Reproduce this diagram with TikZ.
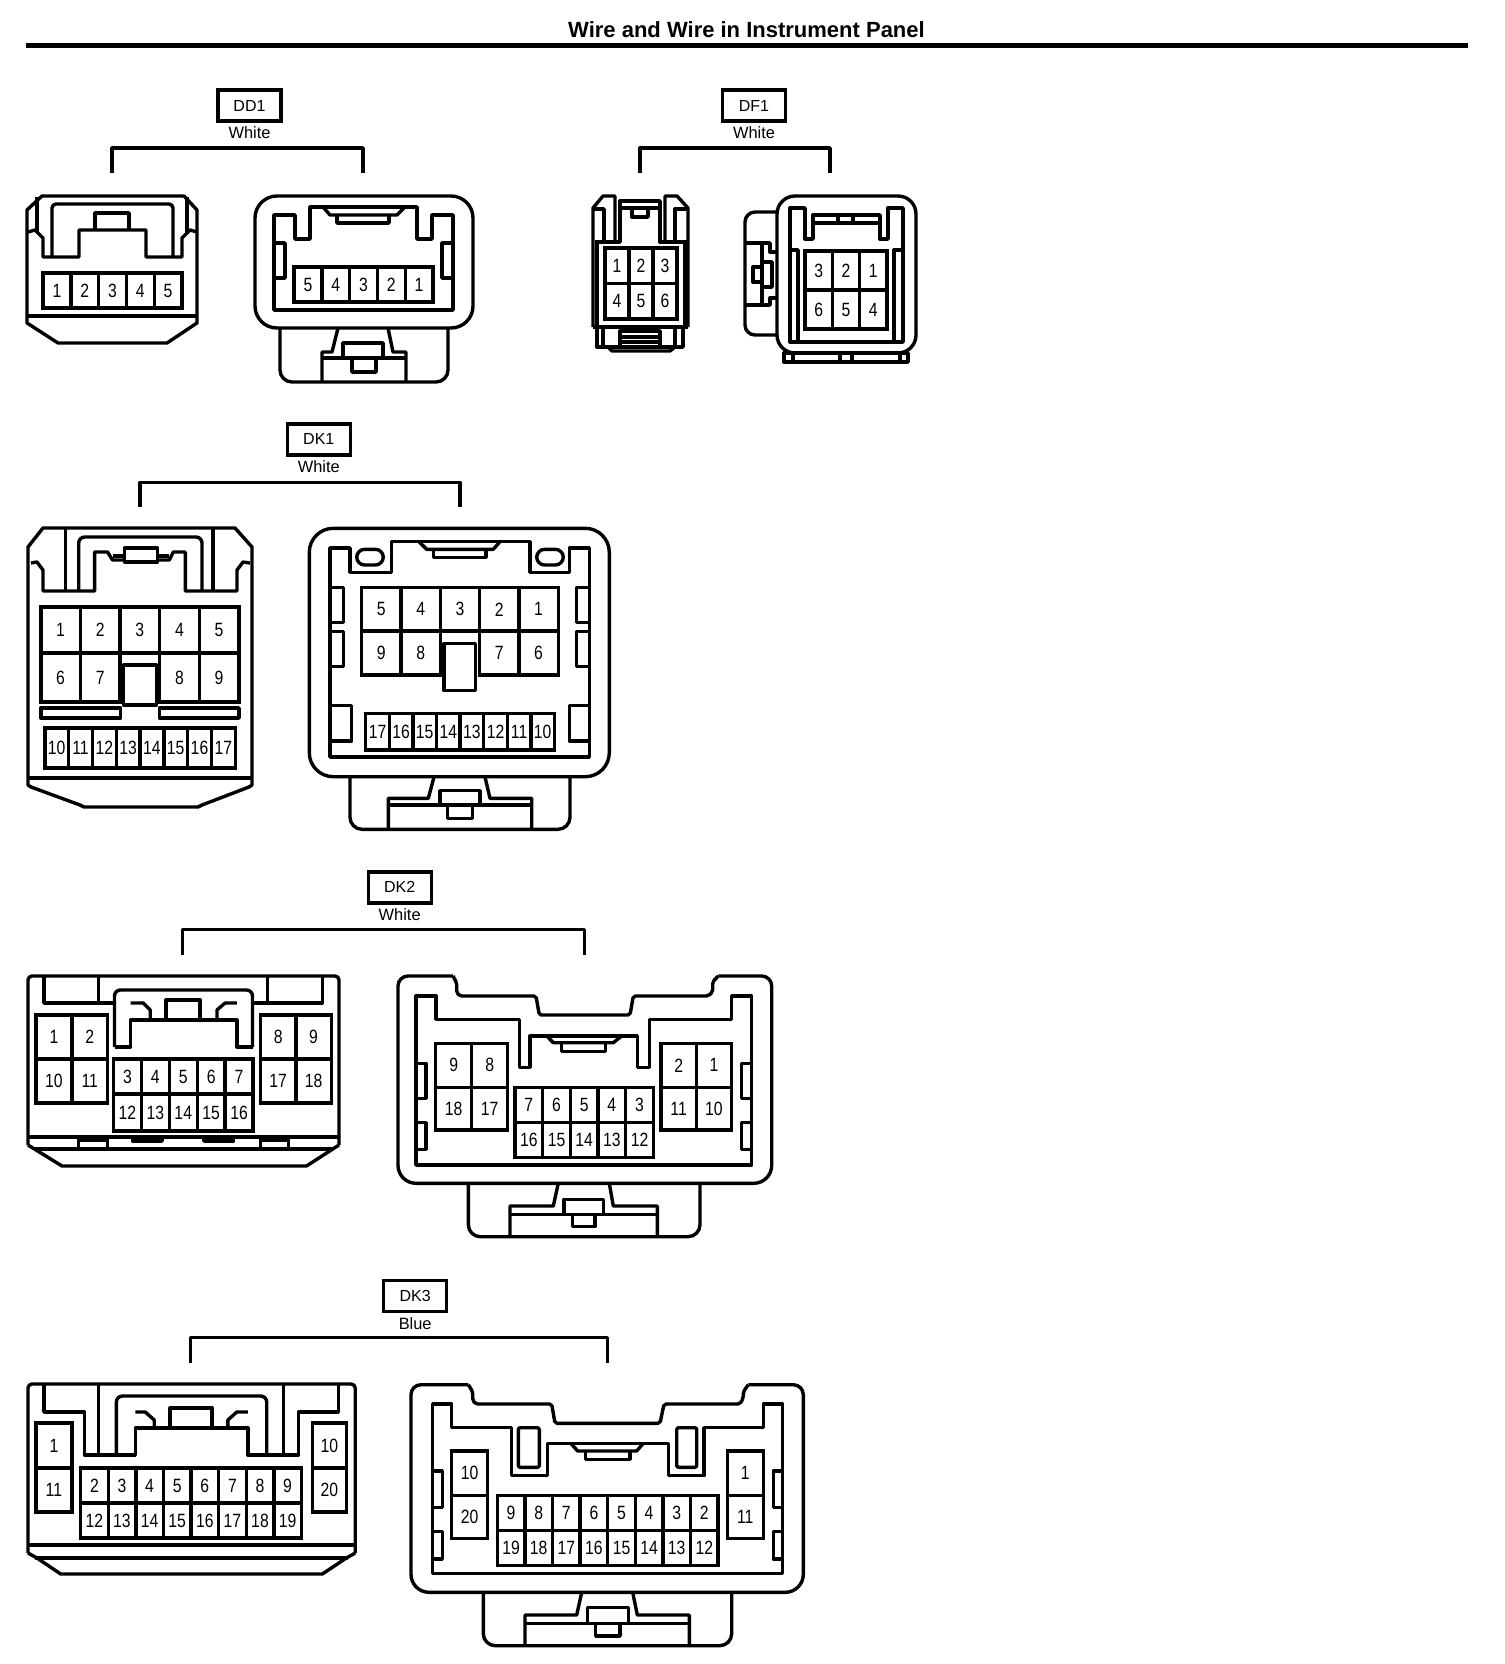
\documentclass[tikz,border=0pt]{standalone}
\usepackage{fontspec}
\setmainfont{Liberation Sans}
\newfontfamily\pinfont[FakeStretch=0.82]{Liberation Sans}
\usetikzlibrary{positioning}
\newcommand{\pinrow}[6]{%
  \foreach \lab [count=\n] in {#6}
    \node[pincell, minimum width=#4*0.5pt, minimum height=#5*0.5pt] (#1\n) at ({#2+(\n-0.5)*#4},{#3+#5/2}) {\lab};
}
\newcommand{\codebox}[5]{%
  \node[codetag] (#1) at (#2,#3) {#1};
  \node[colourtag, below=2pt of #1] (#1c) {#4};
  \coordinate (#1l) at (#5);
}

\begin{document}
\begin{tikzpicture}[x=0.5pt,y=-0.5pt]

\tikzstyle{hood}=[line width=1.7pt, line join=round]
\tikzstyle{pincell}=[draw, line width=1.7pt, inner sep=0pt, font=\pinfont\fontsize{9.6}{10}\selectfont]
\tikzstyle{codetag}=[draw, line width=1.7pt, minimum width=31.5pt, minimum height=15.5pt, inner sep=0pt, font=\fontsize{8}{9}\selectfont]
\tikzstyle{colourtag}=[inner sep=0pt, font=\fontsize{8.2}{9}\selectfont]
\tikzstyle{bracket}=[line width=1.7pt, line join=round]

\useasboundingbox (0,0) rectangle (1504,1664);

\node[font=\bfseries\fontsize{11}{12}\selectfont, inner sep=0pt] (title) at (746.5,30) {Wire and Wire in Instrument Panel};
\coordinate (rulel) at (26,45.5);
\coordinate (ruler) at (1468,45.5);
\draw[line width=2.5pt] (rulel) -- (ruler);

% DD1
\codebox{DD1}{249.5}{105.5}{White}{112,173}
\coordinate (DD1r) at (363,173);
\draw[bracket] (DD1l) -- ++(0,-25) -| (DD1r);

\draw[hood] (42,196) -- (184,196) -- (197,210) -- (197,323) -- (167,343) -- (58,343) -- (27,323) -- (27,210) -- cycle;
\draw[hood] (27,316) -- (197,316);
\draw[hood] (37,197) -- (37,232) (187,197) -- (187,232);
\draw[hood] (28,232) -- (35,230) -- (43,238) -- (43,257) -- (79,257) -- (79,230) -- (146,230) -- (146,257) -- (182,257) -- (182,238) -- (190,230) -- (197,232);
\draw[hood, rounded corners=2pt] (52,257) -- (52,204) -- (173,204) -- (173,257);
\draw[hood] (95,230) -- (95,213) -- (129,213) -- (129,230);
\pinrow{dda}{43}{273}{27.8}{35}{1,2,3,4,5}

\draw[hood, rounded corners=11pt] (255,196) rectangle (473,328);
\draw[hood] (274,310) -- (453,310) -- (453,215) -- (432,215) -- (432,239) -- (417,239) -- (417,207) -- (310,207) -- (310,239) -- (295,239) -- (295,215) -- (274,215) -- cycle;
\draw[hood] (323,207) -- (330,215) -- (397,215) -- (405,207);
\draw[hood] (337,215) -- (337,223) -- (389,223) -- (389,215);
\draw[hood] (274,243) -- (285,243) -- (285,278) -- (274,278);
\draw[hood] (453,243) -- (442,243) -- (442,278) -- (453,278);
\pinrow{ddb}{294}{267}{27.8}{35}{5,4,3,2,1}
\draw[hood, rounded corners=6pt] (280,328) -- (280,382) -- (448,382) -- (448,328);
\draw[hood] (322,382) -- (322,352) -- (332,352) -- (338,328);
\draw[hood] (406,382) -- (406,352) -- (393,352) -- (388,328);
\draw[hood] (322,358) -- (406,358);
\draw[hood] (343,358) -- (343,343) -- (383,343) -- (383,358);
\draw[hood] (352,358) -- (352,372) -- (376,372) -- (376,358);

% DF1
\codebox{DF1}{754}{105.5}{White}{640,173}
\coordinate (DF1r) at (830,173);
\draw[bracket] (DF1l) -- ++(0,-25) -| (DF1r);

\draw[hood] (593,327) -- (593,208) -- (603,196) -- (615,196) -- (615,242);
\draw[hood] (688,327) -- (688,208) -- (677,196) -- (665,196) -- (665,242);
\draw[hood] (593,209) -- (604,209) -- (604,241);
\draw[hood] (688,209) -- (675,209) -- (675,241);
\draw[hood] (595,242) -- (620,242) -- (620,201) -- (660,201) -- (660,242) -- (687,242);
\draw[hood] (620,208) -- (660,208);
\draw[hood] (632,208) -- (632,217) -- (648,217) -- (648,208);
\draw[hood] (597,243) -- (597,327) (685,243) -- (685,327);
\draw[line width=2pt] (593,327) -- (688,327);
\pinrow{dfa}{605}{248}{24}{35.5}{1,2,3}
\pinrow{dfb}{605}{283.5}{24}{35.5}{4,5,6}
\draw[hood] (597,327) -- (597,347) -- (683,347) -- (683,327);
\draw[hood] (603,327) -- (603,347) (675,327) -- (675,347);
\draw[hood] (620,347) -- (620,331) -- (660,331) -- (660,347);
\draw[hood] (620,337) -- (660,337) (620,342) -- (660,342);
\draw[hood] (608,347) -- (612,351) -- (670,351) -- (675,347);

\draw[hood, rounded corners=9pt] (777,196) rectangle (916,353);
\draw[hood] (790,342) -- (790,208) -- (805,208) -- (805,239) -- (813,239) -- (813,215) -- (880,215) -- (880,239) -- (888,239) -- (888,208) -- (903,208) -- (903,342) -- cycle;
\draw[hood] (813,223) -- (880,223);
\draw[hood] (838,215) -- (838,223) (853,215) -- (853,223);
\draw[hood] (790,250) -- (798,250) -- (798,342);
\draw[hood] (903,250) -- (894,250) -- (894,342);
\pinrow{dfc}{805}{251}{27.3}{39}{3,2,1}
\pinrow{dfd}{805}{290}{27.3}{39}{6,5,4}
\draw[hood, rounded corners=5pt] (777,212) -- (745,212) -- (745,335) -- (777,335);
\draw[hood] (746,243) -- (770,243) -- (770,252) -- (777,252);
\draw[hood] (746,305) -- (770,305) -- (770,298) -- (777,298);
\draw[hood] (762,243) -- (762,305);
\draw[hood] (762,262) rectangle (772,287);
\draw[hood] (762,267) -- (753,267) -- (753,282) -- (762,282);
\draw[hood] (784,353) rectangle (908,362);
\draw[hood] (793,353) -- (793,362) (840,353) -- (840,362) (852,353) -- (852,362) (900,353) -- (900,362);

% DK1
\codebox{DK1}{318.8}{439.3}{White}{140,507}
\coordinate (DK1r) at (460,507);
\draw[bracket] (DK1l) -- ++(0,-24.7) -| (DK1r);

\draw[hood] (43,528) -- (235,528) -- (252,547) -- (252,785) -- (249,787) -- (202,805) -- (198,807) -- (84,807) -- (80,805) -- (31,787) -- (28,785) -- (28,547) -- cycle;
\draw[hood] (28,778) -- (252,778);
\draw[hood] (31,563) -- (37,562) -- (43,570) -- (43,591) -- (94.6,591) -- (94.6,552) -- (107.6,552) -- (112.5,560) -- (124.5,560);
\draw[hood] (157.4,560) -- (169.3,560) -- (173.3,552) -- (185.3,552) -- (185.3,591) -- (237,591) -- (237,570) -- (243,562) -- (250,563);
\draw[hood] (112.5,556) -- (124.5,556) (157.4,556) -- (169.3,556);
\draw[hood] (124.5,562) -- (124.5,548) -- (157.4,548) -- (157.4,562) -- cycle;
\draw[hood, rounded corners=3pt] (78.7,591) -- (78.7,537) -- (202,537) -- (202,591);
\draw[hood, rounded corners=2pt] (65.7,591) -- (65.7,529) (213.1,529) -- (213.1,591);
\pinrow{dka}{40.8}{607}{39.6}{46}{1,2,3,4,5}
\pinrow{dkb}{40.8}{653}{39.6}{49}{6,7}
\pinrow{dkc}{159.6}{653}{39.6}{49}{8,9}
\draw[hood] (123.5,665) rectangle (156.4,705);
\draw[hood] (40.8,708) rectangle (120.5,718);
\draw[hood] (159.6,708) rectangle (239,718);
\pinrow{dkd}{44.8}{728}{23.8}{40}{10,11,12,13,14,15,16,17}

\draw[hood, rounded corners=12pt] (309.3,528.3) rectangle (609.3,776.7);
\draw[hood] (330,757) -- (589.3,757) -- (589.3,548) -- (569.3,548) -- (569.3,572.3) -- (530,572.3) -- (530,541.7) -- (391.7,541.7) -- (391.7,572.3) -- (350,572.3) -- (350,548) -- (330,548) -- cycle;
\draw[hood] (419,541.7) -- (426.7,549.3) -- (493.3,549.3) -- (500,541.7);
\draw[hood] (433.3,549.3) -- (433.3,557.3) -- (486,557.3) -- (486,549.3);
\draw[hood, rounded corners=4pt] (356.7,549.3) rectangle (383.3,565);
\draw[hood, rounded corners=4pt] (536.7,549.3) rectangle (563.3,565);
\draw[hood] (330,587.3) -- (343.3,587.3) -- (343.3,622.7) -- (330,622.7);
\draw[hood] (330,631.7) -- (343.3,631.7) -- (343.3,666.7) -- (330,666.7);
\draw[hood] (589.3,587.3) -- (576.7,587.3) -- (576.7,622.7) -- (589.3,622.7);
\draw[hood] (589.3,631.7) -- (576.7,631.7) -- (576.7,666.7) -- (589.3,666.7);
\draw[hood] (330,705.7) -- (351.7,705.7) -- (351.7,741) -- (330,741);
\draw[hood] (589.3,705.7) -- (569.3,705.7) -- (569.3,741) -- (589.3,741);
\pinrow{dke}{361.7}{587.7}{39.3}{43.3}{5,4,3,2,1}
\pinrow{dkf}{361.7}{631}{39.3}{44}{9,8}
\pinrow{dkg}{479.6}{631}{39.3}{44}{7,6}
\draw[hood] (444,643.3) rectangle (475.7,690.7);
\pinrow{dkh}{365.7}{713.3}{23.6}{36.7}{17,16,15,14,13,12,11,10}
\draw[hood, rounded corners=6pt] (350,776.7) -- (350,829.3) -- (570,829.3) -- (570,776.7);
\draw[hood] (388.3,829.3) -- (388.3,798.3) -- (428.3,798.3) -- (434,777);
\draw[hood] (531.7,829.3) -- (531.7,798.3) -- (490,798.3) -- (485,777);
\draw[hood] (388.3,805) -- (531.7,805);
\draw[hood] (440,805) -- (440,790.7) -- (480,790.7) -- (480,805);
\draw[hood] (447.3,805) -- (447.3,818.3) -- (472.3,818.3) -- (472.3,805);

% DK2
\codebox{DK2}{399.7}{887.3}{White}{182.7,955}
\coordinate (DK2r) at (584.3,955);
\draw[bracket] (DK2l) -- ++(0,-25.7) -| (DK2r);

\draw[hood, rounded corners=2pt] (28,1145) -- (28,976) -- (339,976) -- (339,1145);
\draw[hood] (28,1145) -- (62,1166) -- (306.5,1166) -- (339,1145);
\draw[hood] (28,1137) -- (339,1137);
\draw[hood] (35,1149) -- (332,1149);
\draw[hood] (78.5,1140) rectangle (107.5,1149);
\draw[hood] (260.5,1140) rectangle (288.5,1149);
\draw[hood] (132.5,1138) -- (132.5,1141) -- (162,1141) -- (162,1138);
\draw[hood] (204,1138) -- (204,1141) -- (233.5,1141) -- (233.5,1138);
\draw[hood] (44,977) -- (44,1003) -- (114.5,1003);
\draw[hood] (252.5,1003) -- (322.5,1003) -- (322.5,977);
\draw[hood, rounded corners=2pt] (98.5,1003) -- (98.5,977) (267.5,977) -- (267.5,1003);
\draw[hood, rounded corners=3pt] (114.5,1047) -- (114.5,990) -- (252.5,990) -- (252.5,1047);
\draw[hood] (114.5,1047) -- (130.5,1047) -- (130.5,1020) -- (236.8,1020) -- (236.8,1047) -- (252.5,1047);
\draw[hood] (130.5,1003) -- (143.3,1003) -- (150.2,1010) -- (150.2,1020);
\draw[hood] (236.8,1003) -- (225,1003) -- (217,1010) -- (217,1020);
\draw[hood] (166,1020) -- (166,1000) -- (200,1000) -- (200,1020);
\pinrow{dkj}{36}{1015}{35.8}{44}{1,2}
\pinrow{dkk}{36}{1059}{35.8}{44}{10,11}
\pinrow{dkl}{260.5}{1015}{35.4}{44}{8,9}
\pinrow{dkm}{260.5}{1059}{35.4}{44}{17,18}
\pinrow{dkn}{113.5}{1059}{27.9}{35}{3,4,5,6,7}
\pinrow{dko}{113.5}{1094}{27.9}{37}{12,13,14,15,16}

\draw[hood] (453,976) [rounded corners=5pt] -- (398,976) [rounded corners=9pt] -- (398,1183.3) -- (771.7,1183.3) [rounded corners=5pt] -- (771.7,976) -- (718.3,976);
\draw[hood, rounded corners=1pt] (453,976) -- (456.7,983) -- (456.7,993) -- (460,996) -- (536,996) -- (539.3,1015) -- (630,1015) -- (633.3,996) -- (708.3,996) -- (712.7,991.7) -- (712.7,981.7) -- (718.3,976);
\draw[hood] (416,1165) -- (416,996) -- (436,996) -- (436,1019.3) -- (519.3,1019.3) -- (519.3,1067.3) -- (530,1067.3) -- (530,1036) -- (637.3,1036) -- (637.3,1067.3) -- (649.3,1067.3) -- (649.3,1019.3) -- (731.7,1019.3) -- (731.7,996) -- (751.7,996) -- (751.7,1165) -- cycle;
\draw[hood] (546.7,1036) -- (553.3,1042.7) -- (613.3,1042.7) -- (621.7,1036);
\draw[hood] (561.7,1042.7) -- (561.7,1051.7) -- (605.7,1051.7) -- (605.7,1042.7);
\draw[hood] (416,1063.3) -- (426,1063.3) -- (426,1098.3) -- (416,1098.3);
\draw[hood] (416,1122.7) -- (426,1122.7) -- (426,1149.3) -- (416,1149.3);
\draw[hood] (751.7,1063.3) -- (741.7,1063.3) -- (741.7,1098.3) -- (751.7,1098.3);
\draw[hood] (751.7,1122.7) -- (741.7,1122.7) -- (741.7,1149.3) -- (751.7,1149.3);
\pinrow{dkp}{435.7}{1043.3}{36}{44}{9,8}
\pinrow{dkq}{435.7}{1087.3}{36}{42.7}{18,17}
\pinrow{dkr}{661}{1043.3}{35.3}{44}{2,1}
\pinrow{dks}{661}{1087.3}{35.3}{42.7}{11,10}
\pinrow{dkt}{515}{1087.3}{27.67}{35.4}{7,6,5,4,3}
\pinrow{dku}{515}{1122.7}{27.67}{35}{16,15,14,13,12}
\draw[hood, rounded corners=6pt] (468.3,1183.3) -- (468.3,1236.7) -- (700,1236.7) -- (700,1183.3);
\draw[hood] (510,1236.7) -- (510,1206) -- (553.3,1206) -- (558.3,1183.3);
\draw[hood] (657.3,1236.7) -- (657.3,1206) -- (613.3,1206) -- (609.3,1183.3);
\draw[hood] (510,1214.3) -- (657.3,1214.3);
\draw[hood] (564,1214.3) -- (564,1199.3) -- (603.3,1199.3) -- (603.3,1214.3);
\draw[hood] (572.3,1214.3) -- (572.3,1226.7) -- (595,1226.7) -- (595,1214.3);

% DK3
\codebox{DK3}{415.2}{1295.8}{Blue}{190.7,1362.7}
\coordinate (DK3r) at (607.7,1362.7);
\draw[bracket] (DK3l) -- ++(0,-25) -| (DK3r);

\draw[hood, rounded corners=2pt] (28,1553) -- (28,1384) -- (355.2,1384) -- (355.2,1553);
\draw[hood] (28,1553) -- (37,1558) -- (60.7,1574) -- (322.4,1574) -- (346.3,1558) -- (355.2,1553);
\draw[hood] (28,1545) -- (355.2,1545);
\draw[hood] (35,1558) -- (348.3,1558);
\draw[hood] (44,1385) -- (44,1412) -- (84.6,1412) -- (84.6,1455) -- (135.3,1455) -- (135.3,1428) -- (247.8,1428) -- (247.8,1455) -- (298.5,1455) -- (298.5,1412) -- (338.3,1412) -- (338.3,1385);
\draw[hood, rounded corners=2pt] (98.5,1385) -- (98.5,1455) (283.6,1385) -- (283.6,1455);
\draw[hood, rounded corners=3pt] (116.4,1455) -- (116.4,1396) -- (266.7,1396) -- (266.7,1455);
\draw[hood] (135.3,1412) -- (145.3,1412) -- (154.2,1420) -- (154.2,1428);
\draw[hood] (247.8,1412) -- (236.8,1412) -- (227.9,1420) -- (227.9,1428);
\draw[hood] (170.1,1428) -- (170.1,1408) -- (212,1408) -- (212,1428);
\pinrow{dkv}{36}{1423}{35.8}{45}{1}
\pinrow{dkw}{36}{1468}{35.8}{44}{11}
\pinrow{dkx}{312.4}{1423}{33.8}{45}{10}
\pinrow{dky}{312.4}{1468}{33.8}{44}{20}
\pinrow{dkz}{80.6}{1468}{27.6}{35}{2,3,4,5,6,7,8,9}
\pinrow{dla}{80.6}{1503}{27.6}{35}{12,13,14,15,16,17,18,19}

\draw[hood] (468.3,1384.7) [rounded corners=5pt] -- (411,1384.7) [rounded corners=9pt] -- (411,1592.3) -- (803.3,1592.3) [rounded corners=5pt] -- (803.3,1384.7) -- (748.3,1384.7);
\draw[hood, rounded corners=1pt] (468.3,1384.7) -- (472.7,1391.7) -- (472.7,1400.7) -- (476,1404) -- (551.7,1404) -- (555,1423.3) -- (660,1423.3) -- (664,1404) -- (740,1404) -- (743.3,1398) -- (743.3,1391.7) -- (748.3,1384.7);
\draw[hood] (432.7,1573.3) -- (432.7,1404) -- (451.7,1404) -- (451.7,1427.7) -- (511.7,1427.7) -- (511.7,1475.7) -- (547.3,1475.7) -- (547.3,1443.3) -- (668.3,1443.3) -- (668.3,1475.7) -- (704,1475.7) -- (704,1427.7) -- (763.3,1427.7) -- (763.3,1404) -- (782.7,1404) -- (782.7,1573.3) -- cycle;
\draw[hood, rounded corners=1pt] (518.3,1427.7) rectangle (539.3,1467.3);
\draw[hood, rounded corners=1pt] (676.7,1427.7) rectangle (696.7,1467.3);
\draw[hood] (570.7,1443.3) -- (577.7,1451) -- (636.7,1451) -- (643.3,1443.3);
\draw[hood] (585.7,1451) -- (585.7,1459.3) -- (630,1459.3) -- (630,1451);
\draw[hood] (432.7,1471) -- (442.3,1471) -- (442.3,1507.3) -- (432.7,1507.3);
\draw[hood] (432.7,1531.7) -- (442.3,1531.7) -- (442.3,1559) -- (432.7,1559);
\draw[hood] (782.7,1471) -- (773.3,1471) -- (773.3,1507.3) -- (782.7,1507.3);
\draw[hood] (782.7,1531.7) -- (773.3,1531.7) -- (773.3,1559) -- (782.7,1559);
\pinrow{dlb}{451.7}{1451}{36}{44.7}{10}
\pinrow{dlc}{451.7}{1495.7}{36}{42.6}{20}
\pinrow{dld}{727.3}{1451}{36}{44.7}{1}
\pinrow{dle}{727.3}{1495.7}{36}{42.6}{11}
\pinrow{dlf}{497.3}{1495.7}{27.6}{35}{9,8,7,6,5,4,3,2}
\pinrow{dlg}{497.3}{1530.7}{27.6}{35}{19,18,17,16,15,14,13,12}
\draw[hood, rounded corners=6pt] (483.3,1592.3) -- (483.3,1645.7) -- (731.7,1645.7) -- (731.7,1592.3);
\draw[hood] (525,1645.7) -- (525,1615) -- (576.7,1615) -- (581.7,1592.3);
\draw[hood] (689.3,1645.7) -- (689.3,1615) -- (637.3,1615) -- (632.7,1592.3);
\draw[hood] (525,1623.3) -- (689.3,1623.3);
\draw[hood] (587.3,1623.3) -- (587.3,1607.7) -- (628.3,1607.7) -- (628.3,1623.3);
\draw[hood] (595.7,1623.3) -- (595.7,1636) -- (620,1636) -- (620,1623.3);

\end{tikzpicture}
\end{document}
